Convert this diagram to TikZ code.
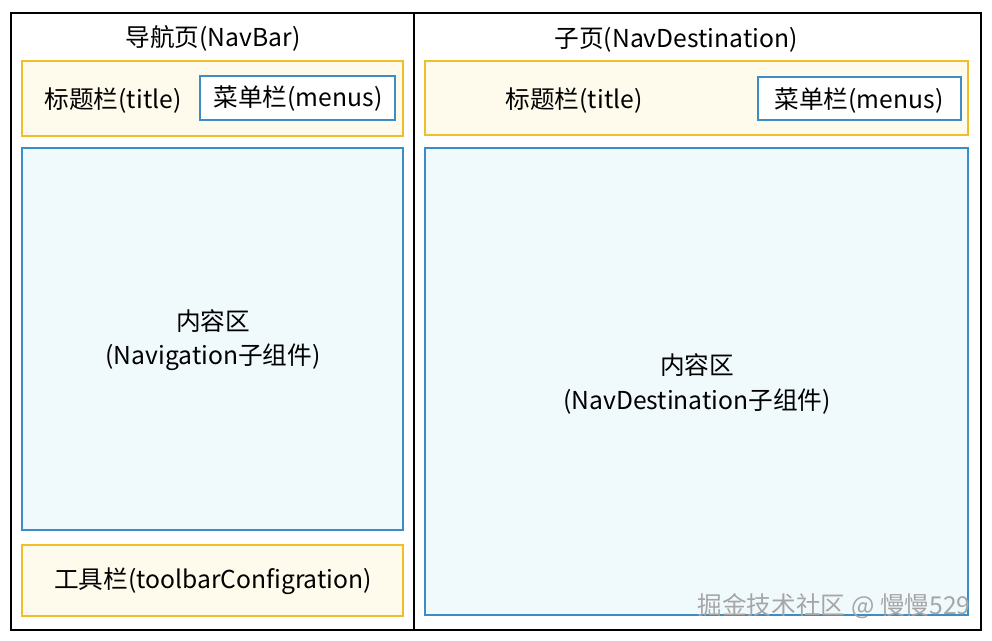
\documentclass[tikz,border=0pt]{standalone}
\usepackage{fontspec}
\setmainfont{Noto Sans CJK SC}
\usetikzlibrary{positioning}
\definecolor{barline}{RGB}{240,190,40}
\definecolor{barfill}{RGB}{255,251,236}
\definecolor{boxline}{RGB}{60,140,200}
\definecolor{boxfill}{RGB}{240,250,252}
\tikzset{
  barbox/.style={draw=barline, fill=barfill, line width=1.2pt},
  areabox/.style={draw=boxline, fill=boxfill, line width=1pt},
  menubox/.style={draw=boxline, fill=white, line width=1pt},
  lbl/.style={font=\fontsize{18.5}{22}\selectfont, align=center, inner sep=0pt},
}
\begin{document}
\begin{tikzpicture}[x=0.75pt,y=0.75pt,yscale=-1,xscale=1]
        \useasboundingbox (0,0) rectangle (992,641);
        \fill[white] (0,0) rectangle (992,641);
        % outer frame
        \draw [line width=1pt] (11,13) rectangle (981,630);
        \draw [line width=1pt] (414,13) -- (414,630);
        % left page
        \draw [barbox] (22,61) rectangle (403,136);
        \draw [menubox] (200,76) rectangle (395,120);
        \draw [areabox] (22,148) rectangle (403,530);
        \draw [barbox] (22,545) rectangle (403,616);
        % right page
        \draw [barbox] (425,61) rectangle (968,135);
        \draw [menubox] (758,77) rectangle (961,120);
        \draw [areabox] (425,148) rectangle (968,615);
        % labels
        \node [lbl] (navbar) at (213,38) {导航页(NavBar)};
        \node [lbl] (navtitle) at (113,101) {标题栏(title)};
        \node [lbl] (navmenus) at (298,99) {菜单栏(menus)};
        \node [lbl] (navcontent) at (213,340) {内容区\\[4pt](Navigation子组件)};
        \node [lbl] (navtool) at (213,581) {工具栏(toolbarConfigration)};
        \node [lbl] (dest) at (676,40) {子页(NavDestination)};
        \node [lbl] (desttitle) at (574,101) {标题栏(title)};
        \node [lbl] (destmenus) at (859,101) {菜单栏(menus)};
        \node [lbl] (destcontent) at (697,384) {内容区\\[4pt](NavDestination子组件)};
        \node [lbl, text=gray!70] (mark) at (834,606) {掘金技术社区 @ 慢慢529};
\end{tikzpicture}
\end{document}
